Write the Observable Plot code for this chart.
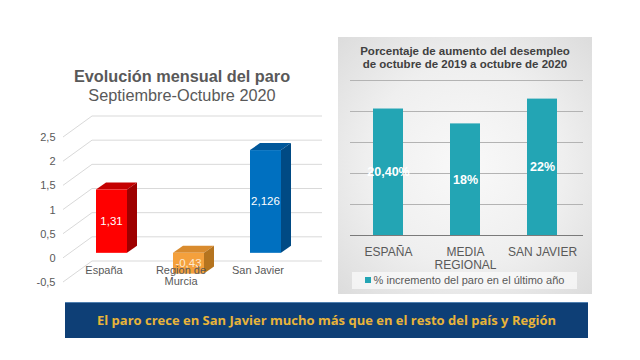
<!DOCTYPE html>
<html>
<head>
<meta charset="utf-8">
<script src="https://cdn.jsdelivr.net/npm/d3@7"></script>
<script src="https://cdn.jsdelivr.net/npm/@observablehq/plot@0.6"></script>
<style>
  html, body { margin: 0; padding: 0; background: #fff; }
  #page { position: relative; width: 640px; height: 360px; overflow: hidden; font-family: "Liberation Sans", Arial, sans-serif; }
  .abs { position: absolute; }
  #ltitle { left: 30px; width: 304px; top: 67px; text-align: center; color: #595959; font-size: 16.3px; line-height: 19px; }
  #ltitle b { font-weight: bold; }
  #panel { left: 338px; top: 37px; width: 254px; height: 257px;
    background: radial-gradient(ellipse at 50% 50%, #f9f9f9 0%, #efefef 55%, #dcdcdc 100%); }
  #rtitle { left: 338px; width: 254px; top: 45px; text-align: center; color: #404040; font-size: 11.5px; font-weight: bold; line-height: 13px; }
  #legend { left: 352px; top: 272px; width: 225px; height: 17px; background: rgba(250,250,250,0.75);
    color: #595959; font-size: 11px; line-height: 17px; text-align: center; }
  #legend span.sw { display: inline-block; width: 6px; height: 6px; background: #23a5b4; margin-right: 3px; vertical-align: 1px; }
  #banner { left: 65px; top: 302px; width: 523px; height: 35px; background: #0e3f76; border-top: 1px solid #4f7fb0;
    color: #e8b43a; font-family: "Open Sans", sans-serif; font-weight: 700; font-size: 13px; line-height: 34px; text-align: center; }
  #left { left: 0; top: 100px; }
  #right { left: 338px; top: 70px; }
</style>
</head>
<body>
<div id="page">
  <div id="ltitle" class="abs"><b>Evolución mensual del paro</b><br>Septiembre-Octubre 2020</div>
  <div id="panel" class="abs"></div>
  <div id="rtitle" class="abs">Porcentaje de aumento del desempleo<br>de octubre de 2019 a octubre de 2020</div>
  <div id="left" class="abs"></div>
  <div id="right" class="abs"></div>
  <div id="legend" class="abs"><span class="sw"></span>% incremento del paro en el último año</div>
  <div id="banner" class="abs">El paro crece en San Javier mucho más que en el resto del país y Región</div>
</div>
<script>
// ---- Left chart data ----
const leftCats = ["España", "Region de Murcia", "San Javier"];
const leftValues = [1.31, -0.43, 2.126];
const leftLabels = ["1,31", "-0,43", "2,126"];
const leftTicks = [-0.5, 0, 0.5, 1, 1.5, 2, 2.5];
const leftTickLabels = ["España", "Region de\nMurcia", "San Javier"];

// ---- Right chart data ----
const rightCats = ["ESPAÑA", "MEDIA REGIONAL", "SAN JAVIER"];
const rightValues = [20.4, 18, 22];
const rightLabels = ["20,40%", "18%", "22%"];
const rightTicks = [5, 10, 15, 20, 25];
const rightTickLabels = ["ESPAÑA", "MEDIA\nREGIONAL", "SAN JAVIER"];

// ---- styles ----
const frontColors = ["#ff0000", "#f4a03c", "#0070c0"];
const topColors = ["#c40000", "#d98b2e", "#00579a"];
const sideColors = ["#9e0000", "#b5741f", "#004a84"];
const teal = "#23a5b4";

const leftData = leftCats.map((c, i) => ({cat: c, value: leftValues[i], label: leftLabels[i], i}));
const rightData = rightCats.map((c, i) => ({cat: c, value: rightValues[i], label: rightLabels[i]}));

const DX = 10, DY = -7, OFF = -5, WALLX = 29, WALLY = -21;

function gridMark(index, scales, values, dims) {
  const g = d3.create("svg:g");
  const y = scales.y;
  for (const t of leftTicks) {
    const yy = y(t);
    g.append("path")
      .attr("d", `M63,${yy}L${63 + WALLX},${yy + WALLY}L322,${yy + WALLY}`)
      .attr("fill", "none").attr("stroke", "#d9d9d9").attr("stroke-width", 1);
  }
  return g.node();
}

function bandInfo(x) {
  let bw = typeof x.bandwidth === "function" ? x.bandwidth() : 0;
  if (!bw) bw = 31;
  return bw;
}

function barsMark(index, scales, values, dims) {
  const g = d3.create("svg:g");
  const x = scales.x, y = scales.y;
  const bw = bandInfo(x);
  leftData.forEach((d, i) => {
    const x0 = x(d.cat);
    const yv = y(d.value) + OFF, y0 = y(0) + OFF;
    const top = Math.min(yv, y0), bot = Math.max(yv, y0);
    g.append("polygon")
      .attr("points", `${x0},${top} ${x0 + DX},${top + DY} ${x0 + bw + DX},${top + DY} ${x0 + bw},${top}`)
      .attr("fill", topColors[i]);
    g.append("polygon")
      .attr("points", `${x0 + bw},${top} ${x0 + bw + DX},${top + DY} ${x0 + bw + DX},${bot + DY} ${x0 + bw},${bot}`)
      .attr("fill", sideColors[i]);
    g.append("rect")
      .attr("x", x0).attr("y", top).attr("width", bw).attr("height", bot - top)
      .attr("fill", frontColors[i]);
  });
  return g.node();
}

function barLabelsMark(index, scales, values, dims) {
  const g = d3.create("svg:g");
  const x = scales.x, y = scales.y;
  const bw = bandInfo(x);
  leftData.forEach((d) => {
    g.append("text")
      .attr("x", x(d.cat) + bw / 2)
      .attr("y", y(d.value / 2) + OFF)
      .attr("dy", "0.35em")
      .attr("text-anchor", "middle")
      .attr("font-size", 11.5)
      .attr("fill", d.value < 0 ? "#fde9cf" : "#ffffff")
      .text(d.label);
  });
  return g.node();
}

const left = Plot.plot({
  width: 340, height: 200,
  marginLeft: 60, marginRight: 10, marginTop: 37, marginBottom: 18,
  style: {fontFamily: "Liberation Sans, Arial, sans-serif", background: "transparent", overflow: "visible"},
  x: {type: "band", domain: leftCats, range: [48.5, 327.5], padding: 0.6},
  y: {domain: [-0.5, 2.5], range: [182, 37]},
  marks: [
    gridMark,
    barsMark,
    Plot.axisY(leftTicks, {tickSize: 0, tickPadding: 5, fontSize: 11, color: "#595959", label: null,
      tickFormat: d => String(d).replace(".", ",")}),
    barLabelsMark,
    Plot.axisX({tickSize: 0, tickPadding: 0, dy: -16, dx: -8, fontSize: 11, color: "#595959", label: null,
      tickFormat: d => leftTickLabels[leftCats.indexOf(d)]})
  ]
});
document.getElementById("left").appendChild(left);

const right = Plot.plot({
  width: 254, height: 200,
  marginLeft: 12, marginRight: 9, marginTop: 10, marginBottom: 35,
  style: {fontFamily: "Liberation Sans, Arial, sans-serif", background: "transparent", overflow: "visible"},
  x: {type: "band", domain: rightCats, range: [-12, 266], padding: 0.61},
  y: {domain: [0, 25], range: [165, 10], axis: null},
  marks: [
    Plot.ruleY(rightTicks, {stroke: "#b3b3b3", strokeWidth: 1}),
    Plot.barY(rightData, {x: "cat", y: "value", fill: teal}),
    Plot.ruleY([0], {stroke: "#7a7a7a", strokeWidth: 1}),
    Plot.text(rightData, {x: "cat", y: d => d.value / 2, text: "label", fill: "white", fontWeight: "bold", fontSize: 12.5}),
    Plot.axisX({tickSize: 0, tickPadding: 11, fontSize: 12, color: "#595959", label: null, lineHeight: 1.08,
      tickFormat: d => rightTickLabels[rightCats.indexOf(d)]})
  ]
});
document.getElementById("right").appendChild(right);
</script>
</body>
</html>
